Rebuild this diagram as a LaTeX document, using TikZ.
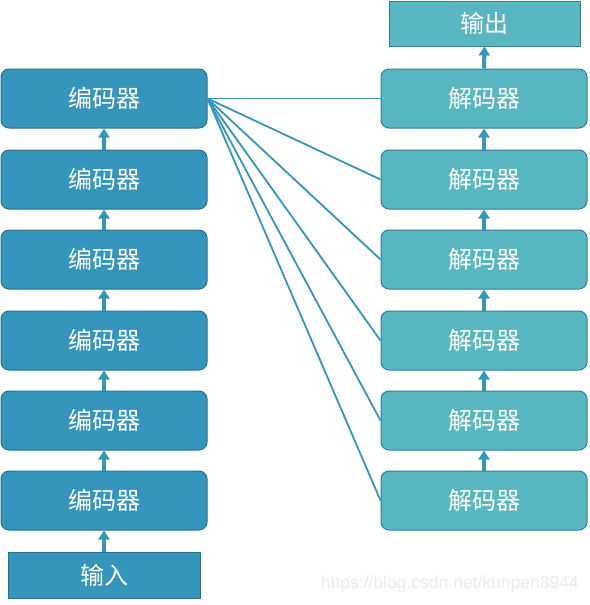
\documentclass[tikz,border=0pt]{standalone}
\usepackage{fontspec}
\newfontfamily\cjk{Noto Sans CJK SC}
\usetikzlibrary{arrows.meta}
\definecolor{encfill}{HTML}{3595BA}
\definecolor{encdraw}{HTML}{2A7090}
\definecolor{decfill}{HTML}{58B6C0}
\definecolor{decdraw}{HTML}{2F7F92}
\definecolor{linkc}{HTML}{3595BA}
\tikzset{
  enc/.style={draw=encdraw, fill=encfill, line width=1pt, rounded corners=8pt, minimum width=206pt, minimum height=59pt, text=white, font=\cjk\fontsize{24}{26}\selectfont, inner sep=0pt},
  dec/.style={enc, draw=decdraw, fill=decfill},
  encsq/.style={enc, rounded corners=0pt, minimum width=192pt, minimum height=46pt},
  decsq/.style={dec, rounded corners=0pt, minimum width=191pt, minimum height=45pt},
  uparrow/.style={draw=linkc, line width=4pt, -{Triangle[width=11pt,length=9pt]}},
  link/.style={draw=linkc, line width=1.8pt},
}
\begin{document}
\begin{tikzpicture}[x=1pt,y=-1pt]
\useasboundingbox (0,0) rectangle (589,605);
% encoders
\node[enc] (e1) at (104,98.5) {编码器};
\node[enc] (e2) at (104,179.5) {编码器};
\node[enc] (e3) at (104,259.5) {编码器};
\node[enc] (e4) at (104,340.5) {编码器};
\node[enc] (e5) at (104,420.5) {编码器};
\node[enc] (e6) at (104,500.5) {编码器};
\node[encsq] (in) at (104,575) {输入};
% decoders
\node[dec] (d1) at (484,98.5) {解码器};
\node[dec] (d2) at (484,179.5) {解码器};
\node[dec] (d3) at (484,259.5) {解码器};
\node[dec] (d4) at (484,340.5) {解码器};
\node[dec] (d5) at (484,420.5) {解码器};
\node[dec] (d6) at (484,500.5) {解码器};
\node[decsq] (out) at (484.5,23.5) {输出};
% arrows
\draw[uparrow] (in.north) -- (e6.south);
\draw[uparrow] (e6.north) -- (e5.south);
\draw[uparrow] (e5.north) -- (e4.south);
\draw[uparrow] (e4.north) -- (e3.south);
\draw[uparrow] (e3.north) -- (e2.south);
\draw[uparrow] (e2.north) -- (e1.south);
\draw[uparrow] (d6.north) -- (d5.south);
\draw[uparrow] (d5.north) -- (d4.south);
\draw[uparrow] (d4.north) -- (d3.south);
\draw[uparrow] (d3.north) -- (d2.south);
\draw[uparrow] (d2.north) -- (d1.south);
\draw[uparrow] (d1.north) -- (out.south);
% links
\foreach \d in {d1,d2,d3,d4,d5,d6}{
  \draw[link] (e1.east) -- (\d.west);
}
\node[text=black!8, font=\fontspec{Liberation Sans}\fontsize{17.5}{19}\selectfont, anchor=east, inner sep=0pt] (wm) at (579,584) {https://blog.csdn.net/kunpen8944};
\end{tikzpicture}
\end{document}
